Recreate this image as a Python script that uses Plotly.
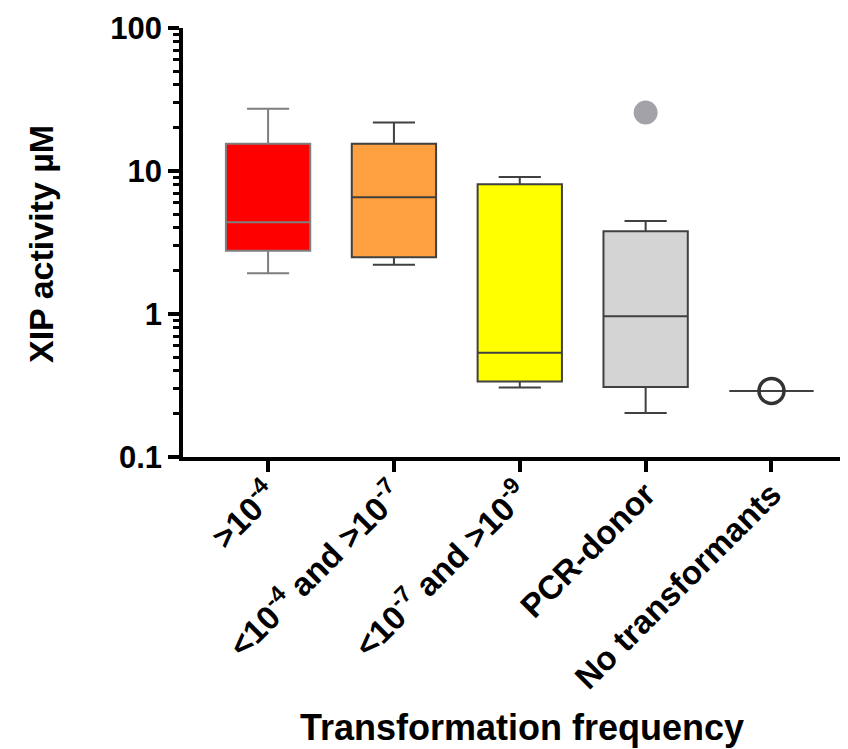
import plotly.graph_objects as go

categories = ["g1", "g2", "g3", "g4", "g5"]
tick_labels = [
    "&gt;10<sup>-4</sup>",
    "&lt;10<sup>-4</sup> and &gt;10<sup>-7</sup>",
    "&lt;10<sup>-7</sup> and &gt;10<sup>-9</sup>",
    "PCR-donor",
    "No transformants",
]
lower_whisker = [1.93, 2.21, 0.306, 0.203, 0.29]
q1_values = [2.77, 2.49, 0.337, 0.309, 0.29]
median_values = [4.38, 6.56, 0.535, 0.966, 0.29]
q3_values = [15.5, 15.5, 8.08, 3.79, 0.29]
upper_whisker = [27.2, 21.8, 9.09, 4.47, 0.29]
fill_colors = ["#FF0000", "#FFA040", "#FFFF00", "#D4D4D4", "#FFFFFF"]
line_colors = ["#7F7F7F", "#404040", "#404040", "#404040", "#404040"]

outlier_category = ["g4"]
outlier_values = [25.6]
single_category = ["g5"]
single_values = [0.29]

fig = go.Figure()
for i, c in enumerate(categories):
    fig.add_trace(go.Box(
        x=[c],
        q1=[q1_values[i]], median=[median_values[i]], q3=[q3_values[i]],
        lowerfence=[lower_whisker[i]], upperfence=[upper_whisker[i]],
        fillcolor=fill_colors[i],
        line=dict(color=line_colors[i], width=2),
        width=0.67,
        whiskerwidth=0.5,
        boxpoints=False,
        showlegend=False,
        hoverinfo="skip",
    ))

fig.add_trace(go.Scatter(
    x=outlier_category, y=outlier_values, mode="markers",
    marker=dict(size=24, color="#A2A2A8", line=dict(width=0)),
    showlegend=False,
))
fig.add_trace(go.Scatter(
    x=single_category, y=single_values, mode="markers",
    marker=dict(size=25, color="#333333", symbol="circle-open",
                line=dict(width=3.5, color="#333333")),
    showlegend=False,
))

font_family = "Liberation Sans, Arial, sans-serif"
# page body has an 8px margin; figure sized to fit the 848x749 window
OFF = 8
W, H = 848 - OFF, 749 - OFF
L, R, T = 183 - OFF, 1, 28 - OFF
B = (OFF + H) - 457
pw, ph = W - L - R, H - T - B

def px_x(x):
    return (x - OFF - L) / pw

def px_y(y):
    return (OFF + H - B - y) / ph

fig.update_layout(
    width=W, height=H,
    margin=dict(l=L, r=R, t=T, b=B, autoexpand=False),
    paper_bgcolor="white", plot_bgcolor="white",
    boxmode="overlay",
    font=dict(family=font_family, color="black"),
    xaxis=dict(
        type="category",
        categoryorder="array", categoryarray=categories,
        tickvals=categories, ticktext=tick_labels,
        range=[-0.676, 4.6],
        automargin=False,
        showline=True, linewidth=3.5, linecolor="black",
        ticks="outside", ticklen=11, tickwidth=3.5, tickcolor="black",
        tickangle=-45,
        ticklabelstandoff=-10,
        tickfont=dict(size=33, family=font_family, color="black", weight="bold"),
        showgrid=False, zeroline=False,
    ),
    yaxis=dict(
        type="log",
        range=[-1, 2],
        automargin=False,
        tickvals=[0.1, 1, 10, 100], ticktext=["0.1", "1", "10", "100"],
        showline=True, linewidth=3.5, linecolor="black",
        ticks="outside", ticklen=11, tickwidth=3.5, tickcolor="black",
        minor=dict(ticks="outside", ticklen=6, tickwidth=3, tickcolor="black",
                   dtick="D1", showgrid=False),
        tickfont=dict(size=31, family=font_family, color="black", weight="bold"),
        showgrid=False, zeroline=False,
    ),
    annotations=[
        dict(text="<b>Transformation frequency</b>", xref="paper", yref="paper",
             x=px_x(522), y=px_y(727), xanchor="center", yanchor="middle",
             showarrow=False, font=dict(size=36, family=font_family, color="black")),
        dict(text="<b>XIP activity µM</b>", xref="paper", yref="paper",
             x=px_x(41), y=px_y(244), xanchor="center", yanchor="middle",
             textangle=-90,
             showarrow=False, font=dict(size=34, family=font_family, color="black")),
    ],
)

fig.write_html("out.html")
